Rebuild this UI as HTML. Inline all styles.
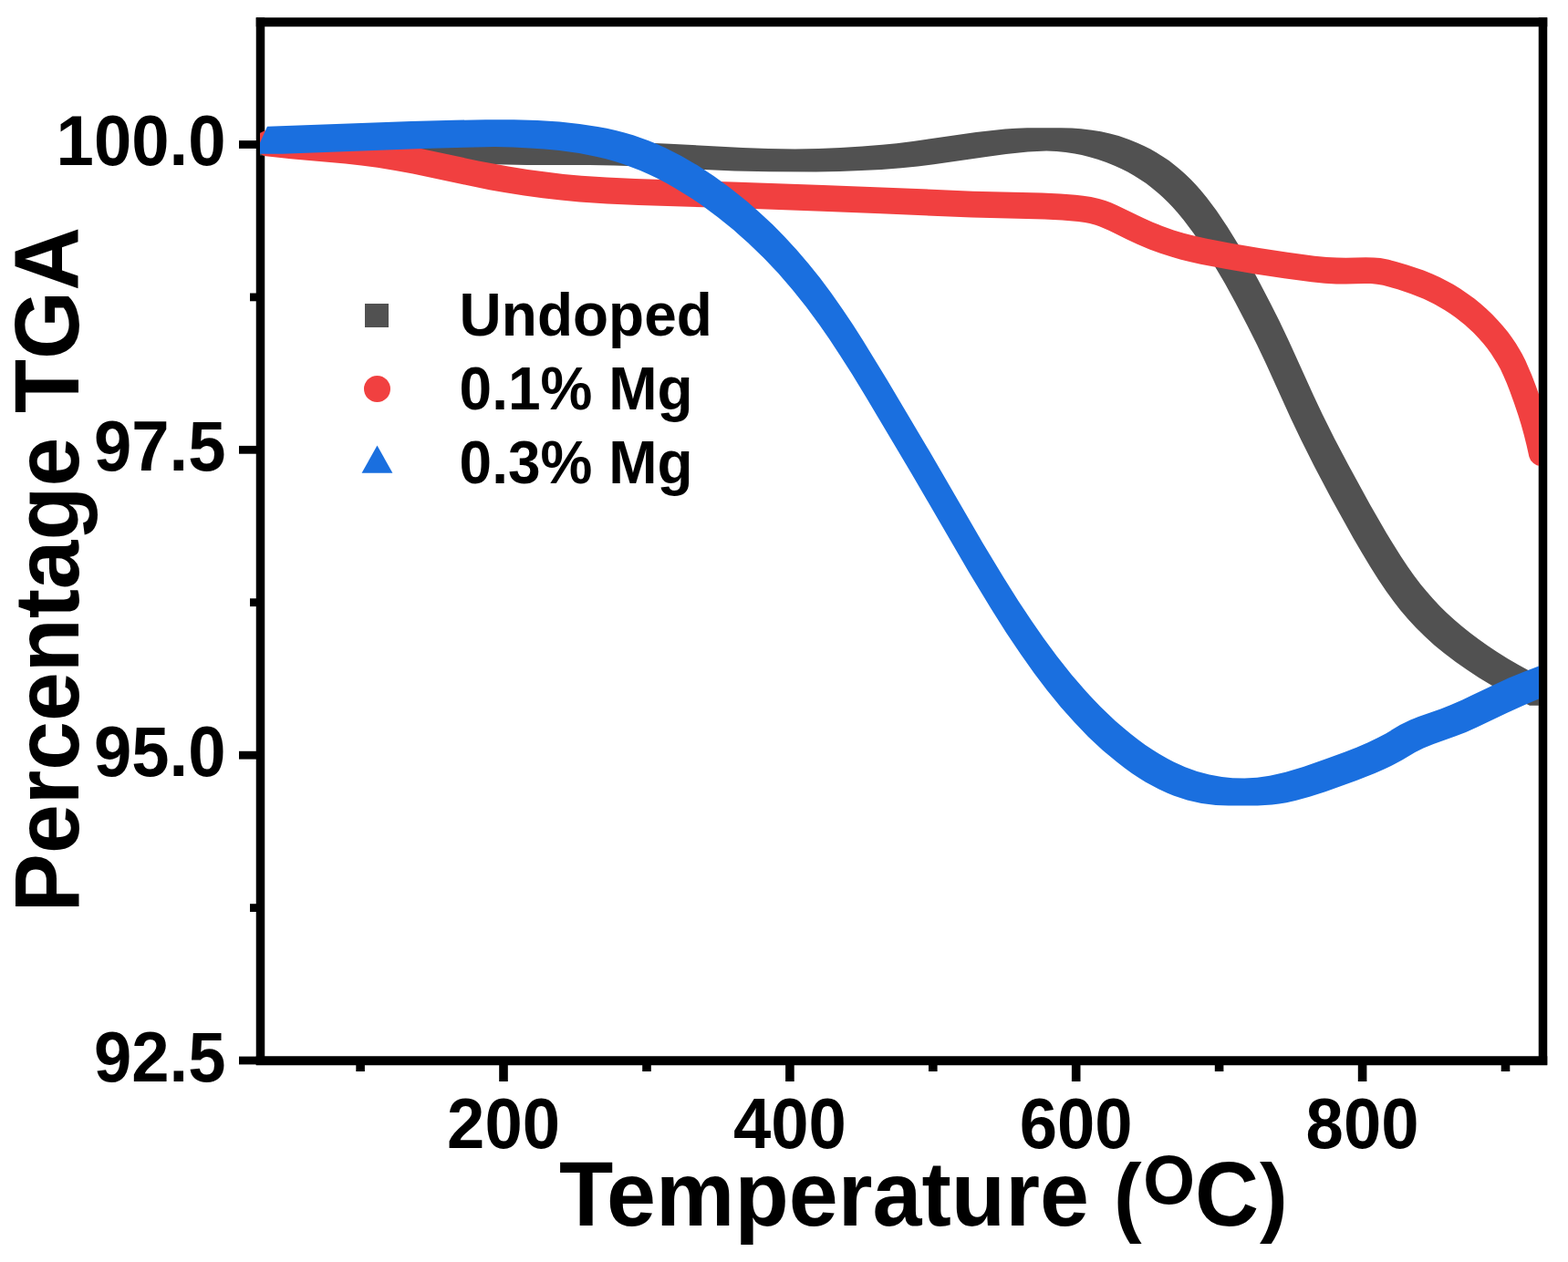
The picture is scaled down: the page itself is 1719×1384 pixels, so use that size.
<!DOCTYPE html>
<html><head><meta charset="utf-8"><title>TGA</title>
<style>
html,body{margin:0;padding:0;background:#fff;overflow:hidden;}
svg{display:block;}
text{font-family:"Liberation Sans",Arial,sans-serif;font-weight:bold;fill:#000;}
</style></head>
<body>
<svg width="1719" height="1384" viewBox="0 0 1719 1384">
<rect width="1719" height="1384" fill="#fff"/>
<defs><clipPath id="pc"><rect x="285" y="24" width="1402" height="1139"/></clipPath></defs>
<g fill="#000">
<rect x="280.75" y="19.25" width="1415.5" height="10.0"/>
<rect x="280.75" y="1158.25" width="1415.5" height="10.0"/>
<rect x="280.75" y="19.25" width="9.5" height="1148.5"/>
<rect x="1686.75" y="19.25" width="9.5" height="1148.5"/>
<rect x="547.2" y="1163.0" width="9.6" height="23.0"/><rect x="861.1" y="1163.0" width="9.6" height="23.0"/><rect x="1174.9" y="1163.0" width="9.6" height="23.0"/><rect x="1488.8" y="1163.0" width="9.6" height="23.0"/><rect x="390.3" y="1163.0" width="9.6" height="12.0"/><rect x="704.2" y="1163.0" width="9.6" height="12.0"/><rect x="1018.0" y="1163.0" width="9.6" height="12.0"/><rect x="1331.8" y="1163.0" width="9.6" height="12.0"/><rect x="1645.7" y="1163.0" width="9.6" height="12.0"/><rect x="262" y="154.1" width="23.5" height="8.8"/><rect x="262" y="488.9" width="23.5" height="8.8"/><rect x="262" y="823.8" width="23.5" height="8.8"/><rect x="262" y="1158.6" width="23.5" height="8.8"/><rect x="274" y="321.5" width="11.5" height="8.8"/><rect x="274" y="656.3" width="11.5" height="8.8"/><rect x="274" y="991.2" width="11.5" height="8.8"/>
</g>
<g clip-path="url(#pc)">
<path fill="#515151" d="M298.0,170.8 355.9,172.7 477.8,178.1 529.8,180.0 577.7,181.0 646.3,181.1 673.6,181.4 703.5,182.5 771.4,186.1 805.4,187.5 843.4,188.3 894.4,188.4 920.4,188.0 944.3,187.1 966.3,185.9 988.1,184.2 1006.0,182.4 1023.8,180.2 1081.2,171.9 1103.0,169.1 1126.9,166.6 1147.2,165.5 1158.2,166.1 1168.2,167.1 1178.1,168.6 1186.0,170.1 1193.7,172.0 1203.3,174.7 1212.7,177.9 1221.9,181.7 1229.1,185.0 1236.2,188.6 1243.1,192.5 1249.8,196.7 1256.4,201.1 1262.7,205.9 1268.8,210.9 1274.7,216.2 1280.4,221.8 1285.9,227.5 1291.2,233.5 1297.6,241.3 1308.5,255.8 1319.8,272.6 1331.5,291.5 1342.7,310.6 1354.3,331.7 1367.2,356.4 1377.9,377.8 1388.2,399.4 1415.4,459.4 1426.5,482.8 1441.7,513.1 1459.5,546.7 1483.8,590.5 1492.9,606.1 1502.2,621.5 1510.7,635.1 1519.6,648.3 1527.8,659.6 1535.1,669.0 1544.1,679.6 1552.2,688.3 1562.1,698.1 1572.4,707.4 1583.2,716.3 1596.0,726.0 1607.5,734.1 1621.0,742.9 1633.0,750.3 1646.9,758.2 1661.0,765.7 1677.0,773.7 1702.0,773.7 1702.0,748.7 1677.2,736.1 1664.9,729.3 1652.8,722.2 1640.9,714.7 1630.8,708.0 1621.0,701.0 1611.3,693.8 1602.0,686.3 1594.4,679.8 1585.6,671.7 1578.5,664.7 1570.4,656.1 1563.9,648.6 1557.6,640.9 1550.4,631.4 1543.5,621.7 1535.7,610.1 1519.9,584.5 1501.9,553.2 1477.9,509.3 1463.0,481.1 1449.7,454.2 1440.4,434.4 1413.2,374.4 1402.9,352.8 1393.1,333.2 1380.2,308.4 1368.7,287.3 1357.6,268.2 1345.9,249.3 1333.5,230.8 1322.6,216.3 1316.2,208.5 1310.9,202.5 1305.4,196.8 1299.7,191.2 1293.8,185.9 1287.7,180.9 1281.4,176.1 1274.8,171.7 1268.1,167.5 1261.2,163.6 1254.1,160.0 1246.9,156.7 1237.7,152.9 1226.4,149.1 1216.8,146.5 1207.0,144.3 1197.2,142.7 1185.2,141.3 1175.2,140.6 1163.1,140.2 1126.0,140.3 1114.0,140.8 1101.9,141.6 1086.0,143.2 1070.1,145.0 1000.8,155.0 983.0,157.2 967.1,158.8 945.2,160.6 921.3,162.0 897.4,162.9 871.4,163.4 842.4,162.9 814.4,162.0 734.5,157.8 706.6,156.6 674.6,156.1 604.7,156.0 564.7,155.3 508.8,153.4 402.9,148.6 361.0,146.9 311.0,145.6 282.0,145.5 282.0,170.5Z"/>
<path fill="#F14040" d="M291.3,171.3 319.0,174.3 378.6,179.5 396.2,181.4 413.7,183.8 433.1,186.9 452.4,190.4 518.7,204.6 536.6,208.2 552.6,211.0 574.6,214.5 594.8,217.2 615.0,219.5 635.2,221.4 665.4,223.4 699.6,225.0 799.6,228.1 901.4,231.7 965.3,234.2 1065.3,238.5 1145.0,240.5 1164.6,241.6 1182.0,243.1 1189.3,244.1 1194.5,245.1 1201.0,246.8 1205.8,248.5 1215.7,252.7 1235.4,262.5 1246.7,267.8 1260.2,273.4 1272.0,277.7 1283.8,281.6 1293.8,284.5 1304.0,287.1 1316.1,289.7 1344.1,295.0 1375.9,300.4 1407.7,305.3 1437.8,309.3 1452.3,310.7 1465.0,311.4 1475.5,311.5 1495.6,311.1 1502.9,311.1 1509.5,311.7 1516.0,312.8 1532.2,317.3 1546.8,322.2 1560.8,327.8 1572.5,333.4 1583.7,339.9 1589.9,343.9 1595.9,348.2 1606.0,356.3 1615.5,365.1 1620.7,370.5 1625.6,376.0 1630.3,381.8 1634.6,387.7 1641.4,398.4 1644.9,404.8 1648.0,411.5 1651.7,420.1 1655.2,429.1 1659.9,442.0 1664.3,454.9 1667.7,466.0 1670.8,477.2 1673.6,488.4 1676.4,501.0 1678.2,504.9 1681.1,508.0 1684.7,510.2 1688.8,511.2 1693.0,511.0 1697.0,509.5 1700.4,507.0 1702.9,503.6 1704.3,499.6 1704.5,495.4 1703.5,490.0 1700.2,475.8 1696.5,461.8 1692.9,449.9 1688.4,436.3 1683.6,422.8 1679.2,411.3 1672.4,395.6 1668.6,388.1 1665.4,382.4 1661.8,376.6 1657.0,369.5 1653.0,364.1 1647.6,357.4 1641.8,350.9 1635.9,344.7 1629.6,338.8 1623.1,333.0 1616.4,327.6 1607.9,321.4 1600.7,316.6 1593.4,312.1 1585.9,308.0 1578.2,304.1 1570.4,300.6 1560.7,296.6 1542.6,290.4 1530.7,286.9 1522.5,284.8 1513.4,283.1 1506.1,282.5 1497.3,282.3 1475.3,282.7 1465.8,282.6 1454.5,282.0 1441.1,280.7 1411.8,276.8 1380.4,272.0 1349.2,266.7 1322.0,261.5 1308.7,258.6 1297.7,255.7 1286.8,252.4 1274.3,247.9 1263.7,243.7 1253.2,239.1 1224.1,224.9 1217.9,222.3 1211.8,220.0 1204.9,218.0 1196.3,216.1 1187.6,214.8 1179.0,213.8 1162.5,212.6 1142.1,211.6 1066.3,209.7 966.5,205.4 902.5,202.9 802.6,199.4 696.8,196.1 665.1,194.6 637.5,192.7 617.9,190.9 598.3,188.6 578.8,186.0 557.4,182.6 524.5,176.4 457.9,162.2 437.9,158.5 417.8,155.3 399.7,152.9 381.5,150.8 321.6,145.6 294.8,142.8 292.0,143.0 289.3,143.8 286.8,145.1 284.5,146.8 282.7,148.9 281.3,151.4 280.4,154.1 280.1,156.9 280.3,159.7 281.0,162.4 282.3,164.9 284.0,167.1 286.2,169.0 288.6,170.4Z"/>
<path fill="#1A6FDF" d="M450.8,133.1 293.0,138.8 279.5,168.7 309.5,168.7 463.3,163.1 509.2,161.8 542.4,161.1 562.8,161.6 580.8,162.4 596.9,163.5 613.0,165.0 634.9,168.1 654.6,172.0 664.3,174.3 673.9,177.0 683.3,180.0 692.7,183.4 701.9,187.1 710.9,191.1 719.9,195.3 730.4,200.8 739.1,205.7 749.3,211.9 759.4,218.3 769.3,225.1 787.0,238.2 804.1,252.1 820.6,266.8 837.9,283.5 853.1,299.6 868.8,317.7 883.8,336.4 898.0,355.7 909.3,372.1 921.4,390.4 934.2,410.6 948.8,434.5 999.8,520.2 1062.2,627.5 1087.1,668.6 1103.2,693.9 1118.7,717.1 1133.7,738.2 1148.1,757.2 1163.2,775.7 1177.8,792.1 1193.0,807.9 1209.1,822.9 1224.6,835.8 1232.6,842.0 1240.8,847.9 1249.2,853.5 1256.0,857.7 1270.1,865.3 1279.2,869.5 1286.5,872.5 1294.0,875.1 1301.6,877.4 1309.3,879.3 1317.1,880.9 1325.0,882.1 1332.9,882.9 1346.7,883.4 1378.7,883.4 1386.7,883.1 1394.6,882.5 1402.5,881.5 1410.4,880.2 1420.2,878.0 1435.7,873.8 1453.0,868.2 1487.0,855.9 1507.3,848.0 1518.1,843.3 1528.8,838.0 1537.6,833.2 1551.4,824.9 1560.4,820.4 1571.5,815.9 1595.9,807.3 1607.1,802.9 1619.8,797.2 1652.3,781.8 1670.5,773.5 1687.1,766.5 1704.0,760.2 1690.5,730.4 1687.5,730.4 1670.6,736.7 1654.0,743.6 1635.8,751.9 1603.3,767.4 1590.6,773.1 1579.4,777.4 1555.0,786.0 1545.7,789.8 1534.9,795.1 1519.3,804.4 1510.6,809.1 1499.8,814.2 1487.1,819.7 1474.2,824.7 1453.6,832.3 1428.8,841.0 1409.5,846.7 1399.8,849.1 1391.9,850.7 1378.1,852.7 1364.2,853.5 1351.3,853.2 1339.5,851.9 1325.8,849.5 1312.4,845.9 1299.3,841.2 1286.6,835.5 1279.5,831.8 1270.8,826.8 1264.0,822.5 1255.6,816.9 1247.5,810.9 1239.5,804.7 1231.7,798.3 1222.6,790.4 1206.7,775.2 1198.3,766.6 1190.2,757.8 1174.6,739.8 1158.6,719.5 1144.4,700.2 1130.7,680.6 1116.4,659.0 1100.4,633.6 1077.7,595.9 1019.4,495.5 972.5,416.6 945.4,372.3 934.7,355.5 923.6,338.9 911.0,321.0 899.1,305.0 886.6,289.4 873.6,274.2 860.0,259.4 847.3,246.6 832.7,232.9 819.1,221.0 800.3,205.9 782.5,193.0 764.2,181.0 746.9,171.0 729.2,162.1 720.2,158.0 711.0,154.3 694.2,148.3 684.6,145.5 675.0,143.0 665.2,140.8 655.4,138.9 635.5,135.9 613.4,133.6 589.3,132.1 563.3,131.3 532.4,131.2 498.6,131.8Z"/>
</g>
<text transform="translate(247.50 181.10) scale(1 1.0405)" font-size="74.30" text-anchor="end">100.0</text><text transform="translate(247.50 515.93) scale(1 1.0405)" font-size="74.30" text-anchor="end">97.5</text><text transform="translate(247.50 850.75) scale(1 1.0405)" font-size="74.30" text-anchor="end">95.0</text><text transform="translate(247.50 1185.57) scale(1 1.0405)" font-size="74.30" text-anchor="end">92.5</text>
<text transform="translate(552.04 1258.90) scale(1 1.0405)" font-size="74.30" text-anchor="middle">200</text><text transform="translate(865.88 1258.90) scale(1 1.0405)" font-size="74.30" text-anchor="middle">400</text><text transform="translate(1179.72 1258.90) scale(1 1.0405)" font-size="74.30" text-anchor="middle">600</text><text transform="translate(1493.56 1258.90) scale(1 1.0405)" font-size="74.30" text-anchor="middle">800</text>
<text transform="translate(86.00 1000.50) rotate(-90) scale(1 1.0405)" font-size="96.60" text-anchor="start">Percentage TGA</text>
<text transform="translate(613 1344) scale(1 1.0405)" font-size="97.1">Temperature <tspan font-size="92.2">(</tspan><tspan font-size="73" dy="-23" dx="1.5">O</tspan><tspan dy="23">C</tspan><tspan font-size="92.2" dx="1">)</tspan></text>
<rect x="400" y="333" width="26" height="26" fill="#515151"/>
<circle cx="413.5" cy="426.5" r="14.5" fill="#F14040"/>
<polygon points="413.5,488.6 396.6,518.7 430.4,518.7" fill="#1A6FDF"/>
<text transform="translate(503.60 367.90) scale(1 1.0405)" font-size="64.00" text-anchor="start">Undoped</text><text transform="translate(503.60 449.00) scale(1 1.0405)" font-size="64.00" text-anchor="start">0.1% Mg</text><text transform="translate(503.60 530.00) scale(1 1.0405)" font-size="64.00" text-anchor="start">0.3% Mg</text>
</svg>
</body></html>
